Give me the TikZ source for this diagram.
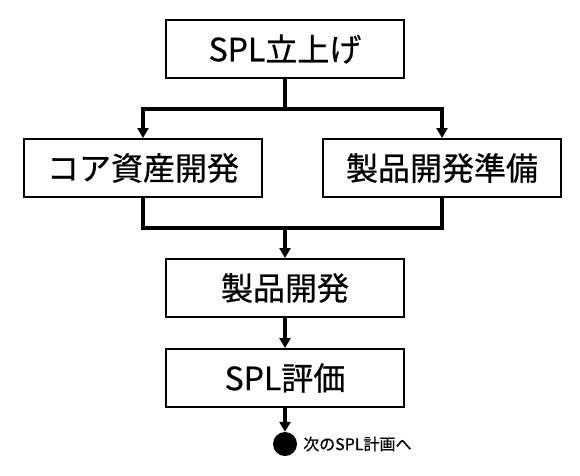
\documentclass[tikz,border=0pt]{standalone}
\usepackage{fontspec}
\setmainfont{Noto Sans CJK JP}[FakeBold=0.6]
\usetikzlibrary{arrows.meta}
\begin{document}
\begin{tikzpicture}[x=1pt,y=-1pt,
  box/.style={draw, line width=2pt, minimum width=238pt, minimum height=58pt, inner sep=0pt, font=\fontsize{32}{36}\selectfont},
  conn/.style={line width=3.2pt},
  arr/.style={conn, -{Triangle[length=10pt,width=11pt]}}]
\useasboundingbox (0,0) rectangle (580,475);
\node[box] (top) at (285,49) {SPL立上げ};
\node[box] (core) at (143,168) {コア資産開発};
\node[box] (prep) at (442,168) {製品開発準備};
\node[box] (dev) at (285,288) {製品開発};
\node[box] (eval) at (285,378) {SPL評価};
\node[circle, fill=black, minimum size=24pt, inner sep=0pt] (dot) at (285,444) {};
\node[anchor=west, inner sep=0pt, font=\fontsize{16}{18}\selectfont] (next) at (303,444) {次のSPL計画へ};
\coordinate (split) at (285,109);
\coordinate (merge) at (285,228);
\draw[conn] (top.south) -- (split);
\draw[arr] (split) -| (core.north);
\draw[arr] (split) -| (prep.north);
\draw[conn] (core.south) |- (merge);
\draw[conn] (prep.south) |- (merge);
\draw[arr] (merge) -- (dev.north);
\draw[arr] (dev.south) -- (eval.north);
\draw[arr] (eval.south) -- (dot.north);
\end{tikzpicture}
\end{document}
